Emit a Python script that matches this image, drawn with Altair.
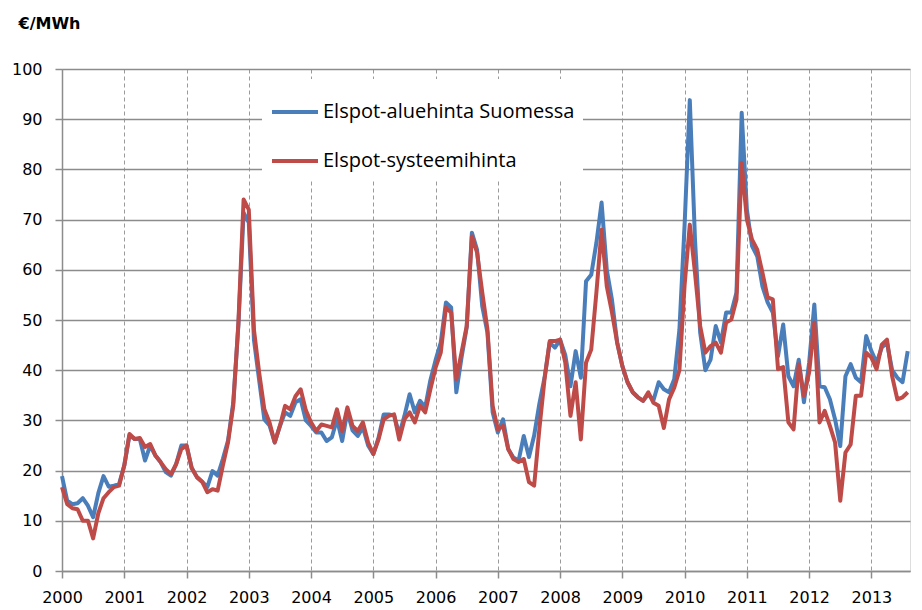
import altair as alt
import pandas as pd

SERIES_FI = "Elspot-aluehinta Suomessa"
SERIES_SYS = "Elspot-systeemihinta"

# monthly prices, Jan 2000 .. Aug 2013 (EUR/MWh)
fi_2000 = [18.9, 14.0, 13.3, 13.5, 14.5, 13.0, 10.7, 15.5, 18.9, 16.8, 17.0, 17.3]
fi_2001 = [21.0, 27.0, 26.3, 26.3, 22.0, 25.0, 23.0, 21.7, 19.7, 19.0, 21.3, 25.0]
fi_2002 = [25.0, 20.5, 18.7, 17.8, 16.7, 19.9, 19.0, 22.3, 26.0, 33.5, 49.0, 71.4]
fi_2003 = [69.4, 46.0, 38.0, 30.2, 29.0, 25.6, 28.9, 31.6, 30.9, 33.6, 34.2, 30.0]
fi_2004 = [28.9, 27.6, 27.6, 25.9, 26.6, 30.2, 25.9, 31.8, 28.0, 26.9, 28.6, 25.0]
fi_2005 = [23.3, 26.5, 31.2, 31.2, 31.0, 27.2, 30.9, 35.2, 31.6, 33.9, 32.6, 38.0]
fi_2006 = [42.0, 45.5, 53.5, 52.5, 35.6, 42.5, 48.5, 67.4, 64.0, 52.7, 47.5, 31.6]
fi_2007 = [27.6, 30.2, 24.3, 22.6, 22.0, 26.9, 22.7, 27.0, 33.3, 38.5, 45.5, 44.5]
fi_2008 = [46.1, 43.0, 36.8, 43.8, 38.5, 57.7, 59.0, 65.4, 73.4, 60.0, 54.0, 45.5]
fi_2009 = [40.8, 37.6, 35.6, 34.6, 33.9, 35.2, 34.0, 37.6, 36.2, 35.6, 38.2, 48.1]
fi_2010 = [69.0, 93.8, 66.0, 47.5, 40.0, 42.1, 48.8, 45.5, 51.5, 51.5, 55.5, 91.3]
fi_2011 = [72.0, 64.7, 62.7, 56.7, 53.5, 51.5, 42.8, 49.1, 38.8, 36.8, 42.1, 33.6]
fi_2012 = [41.5, 53.1, 36.8, 36.6, 34.2, 30.2, 24.9, 38.8, 41.2, 38.5, 37.6, 46.8]
fi_2013 = [43.8, 41.5, 44.5, 45.5, 40.0, 38.5, 37.6, 43.8]

sys_2000 = [16.7, 13.3, 12.5, 12.3, 10.0, 10.0, 6.5, 11.5, 14.5, 15.7, 16.7, 17.0]
sys_2001 = [21.0, 27.3, 26.3, 26.5, 24.7, 25.3, 23.0, 21.7, 20.3, 19.3, 21.3, 24.3]
sys_2002 = [25.0, 20.5, 18.7, 17.8, 15.7, 16.3, 16.0, 21.0, 25.6, 32.9, 49.5, 74.0]
sys_2003 = [72.0, 48.0, 39.5, 32.2, 29.6, 25.6, 28.9, 32.9, 32.2, 34.8, 36.2, 32.0]
sys_2004 = [29.6, 27.9, 29.2, 28.9, 28.6, 32.2, 27.9, 32.6, 28.9, 27.9, 29.6, 25.6]
sys_2005 = [23.3, 26.2, 30.2, 30.9, 31.2, 26.2, 30.2, 31.6, 29.6, 32.9, 31.6, 36.2]
sys_2006 = [40.5, 43.5, 52.5, 51.5, 38.2, 43.5, 48.8, 66.7, 63.4, 55.5, 48.1, 32.9]
sys_2007 = [28.2, 28.9, 24.3, 22.3, 21.7, 22.3, 17.7, 17.0, 28.2, 38.2, 45.8, 45.8]
sys_2008 = [46.1, 41.5, 30.9, 37.6, 26.2, 41.5, 44.1, 55.5, 68.0, 56.7, 51.5, 45.5]
sys_2009 = [40.8, 37.6, 35.6, 34.6, 33.9, 35.6, 33.5, 32.9, 28.5, 34.2, 36.5, 40.0]
sys_2010 = [57.0, 69.0, 59.4, 48.8, 43.5, 44.8, 45.5, 43.5, 49.5, 50.1, 54.1, 81.3]
sys_2011 = [70.0, 66.0, 64.0, 59.4, 54.5, 54.1, 40.2, 40.6, 29.6, 28.2, 41.2, 34.9]
sys_2012 = [39.6, 49.5, 29.6, 31.9, 28.9, 25.6, 14.0, 23.6, 25.2, 34.9, 34.9, 43.5]
sys_2013 = [42.5, 40.2, 45.1, 46.1, 38.8, 34.2, 34.6, 35.6]

fi_values = (fi_2000 + fi_2001 + fi_2002 + fi_2003 + fi_2004 + fi_2005 + fi_2006
             + fi_2007 + fi_2008 + fi_2009 + fi_2010 + fi_2011 + fi_2012 + fi_2013)
sys_values = (sys_2000 + sys_2001 + sys_2002 + sys_2003 + sys_2004 + sys_2005 + sys_2006
              + sys_2007 + sys_2008 + sys_2009 + sys_2010 + sys_2011 + sys_2012 + sys_2013)

year_ticks = list(range(2000, 2014))

rows = []
for i, v in enumerate(fi_values):
    rows.append({"t": 2000 + i / 12.0, "price": v, "series": SERIES_FI})
for i, v in enumerate(sys_values):
    rows.append({"t": 2000 + i / 12.0, "price": v, "series": SERIES_SYS})
df = pd.DataFrame(rows)

BLUE = "#4A7EBB"
RED = "#BE4B48"
GRID = "#8c8c8c"

x_enc = alt.X(
    "t:Q",
    scale=alt.Scale(domain=[2000, 2013.62], nice=False, zero=False),
    axis=alt.Axis(
        values=year_ticks, format="d", title=None,
        grid=True, gridDash=[4, 3], gridColor="#9a9a9a", gridWidth=1,
        domainColor=GRID, domainWidth=1.5, tickColor=GRID, tickSize=7, tickWidth=1.5,
        labelFont="DejaVu Sans", labelFontSize=16, labelColor="#000000",
        labelPadding=11, labelFlush=False,
    ),
)
y_enc = alt.Y(
    "price:Q",
    scale=alt.Scale(domain=[0, 100], nice=False),
    axis=alt.Axis(
        values=list(range(0, 101, 10)), title="€/MWh",
        titleAngle=0, titleX=-44, titleY=-46, titleAlign="left", titleBaseline="middle",
        titleFont="DejaVu Sans", titleFontSize=16, titleFontWeight="bold", titleColor="#000000",
        grid=True, gridColor=GRID, gridWidth=1.4,
        domainColor=GRID, domainWidth=1.5, tickColor=GRID, tickSize=7, tickWidth=1.5,
        labelFont="DejaVu Sans", labelFontSize=16, labelColor="#000000", labelPadding=13,
    ),
)
color_enc = alt.Color(
    "series:N",
    scale=alt.Scale(domain=[SERIES_FI, SERIES_SYS], range=[BLUE, RED]),
    legend=alt.Legend(
        title=None, orient="none", legendX=200, legendY=10, direction="vertical",
        fillColor="#ffffff", padding=8, symbolType="stroke", symbolSize=2116,
        symbolStrokeWidth=4, rowPadding=14, labelOffset=3, labelLimit=600,
        labelFont="Open Sans", labelFontSize=20, labelColor="#000000",
    ),
)

base = alt.Chart(df)
blue_line = base.transform_filter(alt.datum.series == SERIES_FI).mark_line(
    strokeWidth=4, strokeJoin="round").encode(x=x_enc, y=y_enc, color=color_enc)
red_line = base.transform_filter(alt.datum.series == SERIES_SYS).mark_line(
    strokeWidth=4, strokeJoin="round").encode(x=x_enc, y=y_enc, color=color_enc)

chart = alt.layer(blue_line, red_line).properties(
    width=848, height=502,
    autosize=alt.AutoSizeParams(type="none"),
    padding={"left": 54, "top": 61, "right": 4, "bottom": 35},
).configure_view(stroke=None).configure(background="#ffffff")

chart.save("out.html", embed_options={"renderer": "svg", "actions": False})
